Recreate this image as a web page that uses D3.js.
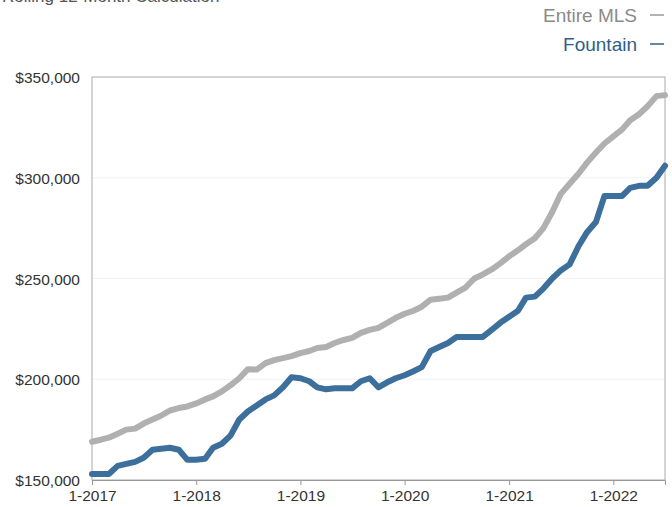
<!DOCTYPE html>
<html lang="en">
<head>
  <meta charset="UTF-8">
  <title>Median Sales Price – Fountain vs Entire MLS</title>
  <script src="https://d3js.org/d3.v7.min.js"></script>
  <style>
    body { margin: 0; background: #fff; font-family: "Liberation Sans", Arial, sans-serif; }
    svg { display: block; }
    .tick text { fill: #333; font-size: 15.5px; }
    .line { fill: none; stroke-width: 6px; stroke-linejoin: round; stroke-linecap: round; }
  </style>
</head>
<body>
  <svg width="672" height="507"></svg>

  <script>
    // monthly values, 1-2017 .. 7-2022
    const startMonth = "2017-01";
    const mlsValues = [
      169000, 170000, 171000, 173000, 175000, 175500, 178000, 180000, 182000, 184500, 185700, 186500,
      188000, 190000, 191500, 194000, 197000, 200500, 205000, 204800, 208000, 209500, 210500, 211500,
      213000, 214000, 215500, 216000, 218000, 219500, 220500, 223000, 224500, 225500, 228000, 230500,
      232500, 234000, 236000, 239500, 240000, 240500, 243000, 245500, 250000, 252000, 254500, 257500,
      261000, 264000, 267000, 270000, 275000, 283000, 292000, 297000, 302000, 307500, 312500, 317000,
      320500, 324000, 328500, 331500, 335500, 340500, 341000
    ];
    const fountainValues = [
      153000, 153000, 153000, 157000, 158000, 159000, 161000, 165000, 165500, 166000, 165000, 160000,
      160000, 160500, 166000, 168000, 172000, 180000, 184000, 187000, 190000, 192000, 196000, 201000,
      200500, 199000, 196000, 195000, 195500, 195500, 195500, 199000, 200500, 196000, 198500, 200500,
      202000, 204000, 206000, 214000, 216000, 218000, 221000, 221000, 221000, 221000, 224500, 228000,
      231000, 234000, 240500, 241000, 245000, 250000, 254000, 257000, 266000, 273000, 278000, 291000,
      291000, 291000, 295000, 296000, 296000, 300000, 306000
    ];
    const yTicks = [150000, 200000, 250000, 300000, 350000];
    const xTickYears = [2017, 2018, 2019, 2020, 2021, 2022];
    const seriesNames = ["Entire MLS", "Fountain"];
    const seriesColors = ["#b0b0b0", "#3c6f9c"];

    const svg = d3.select("svg"),
          margin = { top: 77, right: 7, bottom: 27, left: 92 },
          width  = +svg.attr("width")  - margin.left - margin.right,
          height = +svg.attr("height") - margin.top  - margin.bottom;

    const parseMonth = d3.timeParse("%Y-%m");
    const start = parseMonth(startMonth);
    const dates = mlsValues.map((_, i) => d3.timeMonth.offset(start, i));

    const x = d3.scaleTime()
                .domain(d3.extent(dates))
                .range([0, width]);
    const y = d3.scaleLinear()
                .domain([150000, 350000])
                .range([height, 0]);

    // clipped title from the page above the chart
    svg.append("text")
       .attr("x", 2).attr("y", 2)
       .attr("font-size", 17).attr("fill", "#555")
       .text("Rolling 12-Month Calculation");

    const g = svg.append("g").attr("transform", `translate(${margin.left},${margin.top})`);

    // faint gridlines
    g.append("g")
     .selectAll("line")
     .data(yTicks.slice(1, -1))
     .join("line")
       .attr("x1", 0).attr("x2", width)
       .attr("y1", d => y(d)).attr("y2", d => y(d))
       .attr("stroke", "#f2f2f2");

    // frame
    g.append("rect")
     .attr("width", width).attr("height", height)
     .attr("fill", "none").attr("stroke", "#aaa");

    // axes
    const xAxis = g.append("g")
     .attr("transform", `translate(0,${height})`)
     .call(d3.axisBottom(x)
             .tickValues(xTickYears.map(yr => new Date(yr, 0, 1)))
             .tickFormat(d3.timeFormat("1-%Y"))
             .tickSize(5).tickPadding(5));
    xAxis.select(".domain").attr("stroke", "#999");
    xAxis.selectAll(".tick line").attr("stroke", "#999");

    const yAxis = g.append("g")
     .call(d3.axisLeft(y)
             .tickValues(yTicks)
             .tickFormat(d => "$" + d3.format(",")(d))
             .tickSize(0).tickPadding(12));
    yAxis.select(".domain").remove();
    yAxis.selectAll(".tick text").attr("dy", "0.36em");

    // lines
    const line = d3.line()
                   .x((d, i) => x(dates[i]))
                   .y(d => y(d));

    [mlsValues, fountainValues].forEach((vals, i) => {
      g.append("path")
       .datum(vals)
       .attr("class", "line")
       .attr("stroke", seriesColors[i])
       .attr("d", line);
    });

    // legend (top right)
    const legend = svg.append("g");
    seriesNames.forEach((name, i) => {
      const yy = 22 + i * 29;
      legend.append("text")
            .attr("x", 637).attr("y", yy)
            .attr("text-anchor", "end")
            .attr("font-size", 19)
            .attr("fill", i === 0 ? "#8a8a8a" : "#2f5f86")
            .text(name);
      legend.append("line")
            .attr("x1", 650).attr("x2", 664)
            .attr("y1", yy - 7).attr("y2", yy - 7)
            .attr("stroke", i === 0 ? "#999" : "#2f5f86")
            .attr("stroke-width", 1.5);
    });
  </script>
</body>
</html>
